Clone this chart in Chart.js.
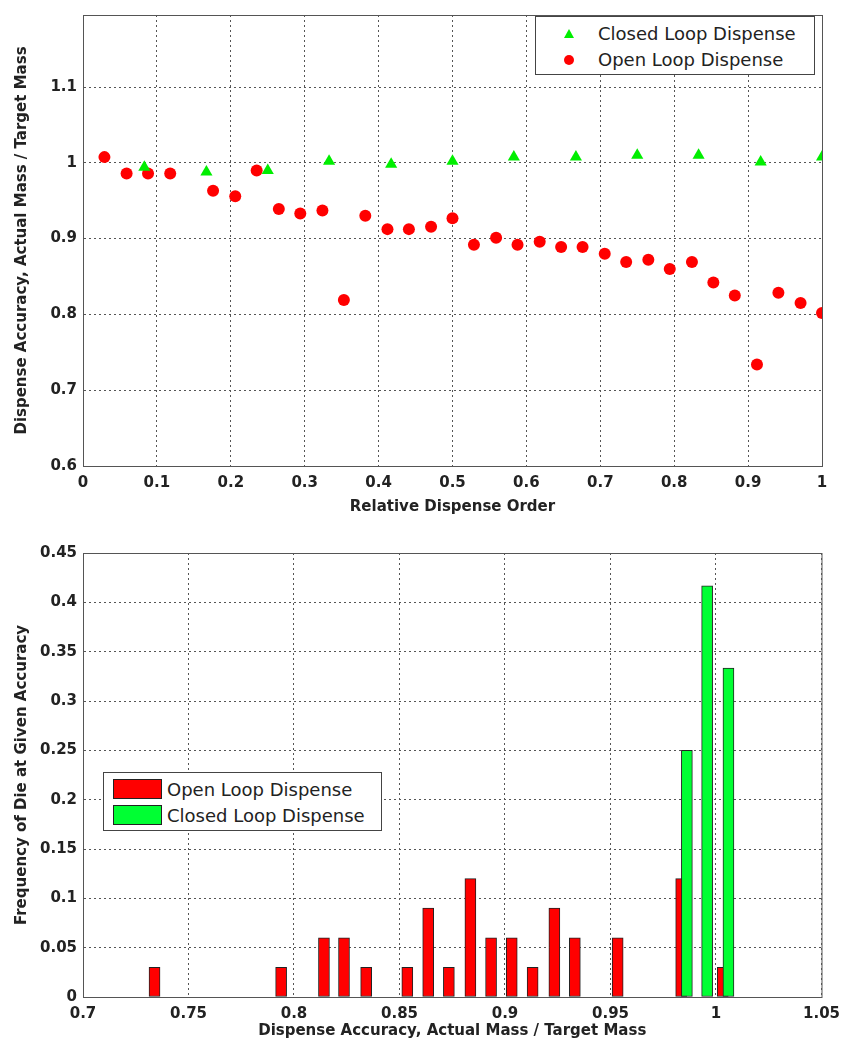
<!DOCTYPE html>
<html>
<head>
<meta charset="utf-8">
<script src="https://cdn.jsdelivr.net/npm/chart.js@4.4.1/dist/chart.umd.min.js"></script>
<style>
  html, body { margin: 0; padding: 0; background: #fff; }
  #wrap { position: relative; width: 848px; height: 1046px; font-family: "DejaVu Sans", sans-serif; }
  canvas { position: absolute; left: 0; }
  .legend { position: absolute; background: #fff; border: 1px solid #444; box-sizing: border-box; color: #222; font-size: 18px; }
  .legend .row { position: absolute; left: 0; right: 0; height: 24px; line-height: 24px; }
  .legend .txt { position: absolute; white-space: nowrap; }
  .tri { position: absolute; width: 0; height: 0; border-left: 5px solid transparent; border-right: 5px solid transparent; border-bottom: 9px solid #00ee00; }
  .dot { position: absolute; width: 10px; height: 10px; border-radius: 50%; background: #ff0000; }
  .sw { position: absolute; width: 47px; height: 18px; border: 1px solid #222; }
</style>
</head>
<body>
<div id="wrap">
  <canvas id="scatterChart" width="848" height="525" style="top:0"></canvas>
  <canvas id="histChart" width="848" height="521" style="top:525px"></canvas>

  <div class="legend" style="left:535px; top:16px; width:280px; height:59px;">
    <div class="row" style="top:5px;"><span class="tri" style="left:28px; top:7px;"></span><span class="txt" style="left:62px;">Closed Loop Dispense</span></div>
    <div class="row" style="top:31px;"><span class="dot" style="left:28px; top:7px;"></span><span class="txt" style="left:62px;">Open Loop Dispense</span></div>
  </div>

  <div class="legend" style="left:103px; top:772px; width:279px; height:59px;">
    <div class="row" style="top:5px;"><span class="sw" style="left:9px; top:1px; background:#ff0000;"></span><span class="txt" style="left:63px;">Open Loop Dispense</span></div>
    <div class="row" style="top:31px;"><span class="sw" style="left:9px; top:1px; background:#00ff33;"></span><span class="txt" style="left:63px;">Closed Loop Dispense</span></div>
  </div>
</div>

<script>
// top plot: accuracy vs. relative order
const orderOpen = [0.029, 0.059, 0.088, 0.118, 0.176, 0.206, 0.235, 0.265, 0.294, 0.324, 0.353,
  0.382, 0.412, 0.441, 0.471, 0.5, 0.529, 0.559, 0.588, 0.618, 0.647, 0.676, 0.706, 0.735,
  0.765, 0.794, 0.824, 0.853, 0.882, 0.912, 0.941, 0.971, 1.0];
const accOpen = [1.0075, 0.986, 0.986, 0.986, 0.963, 0.956, 0.990, 0.939, 0.933, 0.937, 0.819,
  0.930, 0.9125, 0.9125, 0.9155, 0.927, 0.892, 0.901, 0.892, 0.896, 0.889, 0.889, 0.880, 0.869,
  0.872, 0.860, 0.869, 0.842, 0.825, 0.734, 0.8285, 0.815, 0.802];

const orderClosed = [0.083, 0.167, 0.25, 0.333, 0.417, 0.5, 0.583, 0.667, 0.75, 0.833, 0.917, 1.0];
const accClosed = [0.994, 0.988, 0.990, 1.002, 0.998, 1.002, 1.0075, 1.0075, 1.010, 1.010, 1.001, 1.0075];

// bottom plot: histogram of accuracy
const openBins = [0.7339, 0.7939, 0.8142, 0.8237, 0.8342, 0.8537, 0.8636, 0.8734, 0.8836,
  0.8934, 0.9032, 0.9131, 0.9234, 0.9331, 0.9534, 0.9835, 1.0032];
const openFreq = [0.03, 0.03, 0.06, 0.06, 0.03, 0.03, 0.09, 0.03, 0.12,
  0.06, 0.06, 0.03, 0.09, 0.06, 0.06, 0.12, 0.03];

const closedBins = [0.9862, 0.9958, 1.0059];
const closedFreq = [0.25, 0.4167, 0.3333];

// tick labels
const topXTicks = [0, 0.1, 0.2, 0.3, 0.4, 0.5, 0.6, 0.7, 0.8, 0.9, 1];
const topYTicks = [0.6, 0.7, 0.8, 0.9, 1, 1.1];
const botXTicks = [0.7, 0.75, 0.8, 0.85, 0.9, 0.95, 1, 1.05];
const botYTicks = [0, 0.05, 0.1, 0.15, 0.2, 0.25, 0.3, 0.35, 0.4, 0.45];

Chart.defaults.font.family = "DejaVu Sans";
Chart.defaults.color = "#222";

const toPoints = (xs, ys) => xs.map((x, i) => ({ x: x, y: ys[i] }));

const tickFont = { size: 15, weight: "bold" };
const titleFont = { size: 15, weight: "bold" };

// frame on top/right like matlab box
const boxFrame = {
  id: "boxFrame",
  afterDraw(chart) {
    const a = chart.chartArea;
    const ctx = chart.ctx;
    ctx.save();
    ctx.strokeStyle = "#555";
    ctx.lineWidth = 1;
    ctx.strokeRect(a.left + 0.5, a.top + 0.5, a.right - a.left, a.bottom - a.top);
    ctx.restore();
  },
};

function axis(min, max, tickList, title, opts) {
  return {
    type: "linear",
    min: min,
    max: max,
    offset: false,
    afterBuildTicks: (s) => { s.ticks = tickList.map((v) => ({ value: v })); },
    afterFit: opts.fit,
    ticks: {
      font: tickFont,
      padding: opts.tickPad,
      autoSkip: false,
      maxRotation: 0,
      callback: (v) => String(Number(v.toFixed(3))),
    },
    grid: { color: "#555", lineWidth: 1, drawTicks: false, offset: false },
    border: { display: true, color: "#555", dash: [2, 3] },
    title: { display: true, text: title, font: titleFont, padding: opts.titlePad },
  };
}

// Scatter
const scatterChart = new Chart(document.getElementById("scatterChart"), {
  type: "scatter",
  data: {
    datasets: [
      {
        label: "Closed Loop Dispense",
        data: toPoints(orderClosed, accClosed),
        pointStyle: "triangle",
        pointRadius: 7,
        borderWidth: 0,
        backgroundColor: "#00ee00",
      },
      {
        label: "Open Loop Dispense",
        data: toPoints(orderOpen, accOpen),
        pointStyle: "circle",
        pointRadius: 6,
        borderWidth: 0,
        backgroundColor: "#ff0000",
      },
    ],
  },
  options: {
    responsive: false,
    animation: false,
    layout: { padding: { left: 0, top: 8, right: 26, bottom: 0 } },
    plugins: { legend: { display: false }, tooltip: { enabled: false } },
    scales: {
      x: axis(0, 1, topXTicks, "Relative Dispense Order",
        { fit: (s) => { s.height = 59; }, tickPad: 8, titlePad: { top: 0, bottom: 9 } }),
      y: axis(0.6, 1.195, topYTicks, "Dispense Accuracy, Actual Mass / Target Mass",
        { fit: (s) => { s.width = 83; }, tickPad: 6, titlePad: { top: 13, bottom: 0 } }),
    },
  },
  plugins: [boxFrame],
});

// Histogram
const histChart = new Chart(document.getElementById("histChart"), {
  type: "bar",
  data: {
    datasets: [
      {
        label: "Open Loop Dispense",
        data: toPoints(openBins, openFreq),
        backgroundColor: "#ff0000",
        borderColor: "#222",
        borderWidth: 1,
        borderSkipped: false,
        barThickness: 11,
        grouped: false,
        order: 1,
      },
      {
        label: "Closed Loop Dispense",
        data: toPoints(closedBins, closedFreq),
        backgroundColor: "#00ff33",
        borderColor: "#222",
        borderWidth: 1,
        borderSkipped: false,
        barThickness: 11,
        grouped: false,
        order: 0,
      },
    ],
  },
  options: {
    responsive: false,
    animation: false,
    layout: { padding: { left: 0, top: 28, right: 26, bottom: 0 } },
    plugins: { legend: { display: false }, tooltip: { enabled: false } },
    scales: {
      x: axis(0.7, 1.05, botXTicks, "Dispense Accuracy, Actual Mass / Target Mass",
        { fit: (s) => { s.height = 49; }, tickPad: 8, titlePad: { top: 0, bottom: 6 } }),
      y: axis(0, 0.45, botYTicks, "Frequency of Die at Given Accuracy",
        { fit: (s) => { s.width = 83; }, tickPad: 6, titlePad: { top: 13, bottom: 0 } }),
    },
  },
  plugins: [boxFrame],
});
</script>
</body>
</html>
